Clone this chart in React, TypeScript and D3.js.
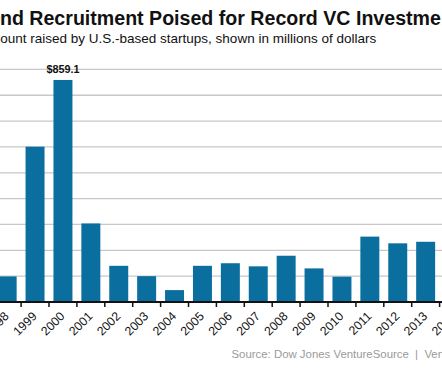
import React, { useRef, useEffect } from "react";
import * as d3 from "d3";

const years = [
  "1998", "1999", "2000", "2001", "2002", "2003", "2004", "2005", "2006",
  "2007", "2008", "2009", "2010", "2011", "2012", "2013", "2014",
];
const amounts = [
  99, 601, 859.1, 304, 140, 100, 46, 140, 150,
  138, 179, 130, 98, 253, 227, 233, 600,
];
const gridValues = [100, 200, 300, 400, 500, 600, 700, 800, 900];

const titleText = "Fund Recruitment Poised for Record VC Investment";
const subtitleText = "Amount raised by U.S.-based startups, shown in millions of dollars";
const sourceText = "Source: Dow Jones VentureSource  |  VentureWire";

const App = () => {
  const svgRef = useRef<SVGSVGElement>(null);

  useEffect(() => {
    const width = 442;
    const height = 369;
    const font = "'Liberation Sans', Arial, Helvetica, sans-serif";

    const svg = d3.select(svgRef.current);
    svg.selectAll("*").remove();
    svg
      .attr("width", width)
      .attr("height", height)
      .style("font-family", font)
      .style("background", "#fff");

    const step = 27.9;
    const x = d3
      .scaleBand()
      .domain(years)
      .range([-6.8, -6.8 + step * years.length])
      .paddingInner(0.32)
      .paddingOuter(0.16);

    const y = d3.scaleLinear().domain([0, 900]).range([302, 69.4]);

    // title + subtitle (left side is cropped in the original)
    svg
      .append("text")
      .attr("x", -24)
      .attr("y", 25)
      .attr("font-size", 19.6)
      .attr("font-weight", "bold")
      .attr("fill", "#111")
      .text(titleText);

    svg
      .append("text")
      .attr("x", -20)
      .attr("y", 43)
      .attr("font-size", 13.5)
      .attr("fill", "#111")
      .text(subtitleText);

    // gridlines
    svg
      .append("g")
      .selectAll("line")
      .data(gridValues)
      .join("line")
      .attr("x1", 0)
      .attr("x2", width)
      .attr("y1", (d) => y(d))
      .attr("y2", (d) => y(d))
      .attr("stroke", "#c8c8c8")
      .attr("stroke-width", 1.3);

    // bars
    svg
      .append("g")
      .selectAll("rect")
      .data(years)
      .join("rect")
      .attr("x", (d) => x(d)!)
      .attr("width", x.bandwidth())
      .attr("y", (d, i) => y(amounts[i]))
      .attr("height", (d, i) => y(0) - y(amounts[i]))
      .attr("fill", "#0a6e9e");

    // peak label
    const peak = d3.maxIndex(amounts.slice(0, 16));
    svg
      .append("text")
      .attr("x", x(years[peak])! + x.bandwidth() / 2)
      .attr("y", y(amounts[peak]) - 7)
      .attr("text-anchor", "middle")
      .attr("font-size", 10.8)
      .attr("font-weight", "bold")
      .attr("fill", "#111")
      .text(`$${amounts[peak].toFixed(1)}`);

    // baseline + ticks
    svg
      .append("line")
      .attr("x1", 0)
      .attr("x2", width)
      .attr("y1", y(0))
      .attr("y2", y(0))
      .attr("stroke", "#111")
      .attr("stroke-width", 2);

    svg
      .append("g")
      .selectAll("line")
      .data(years)
      .join("line")
      .attr("x1", (d) => x(d)! - (step - x.bandwidth()) / 2)
      .attr("x2", (d) => x(d)! - (step - x.bandwidth()) / 2)
      .attr("y1", y(0))
      .attr("y2", y(0) + 5)
      .attr("stroke", "#111")
      .attr("stroke-width", 1.5);

    // year labels
    svg
      .append("g")
      .selectAll("text")
      .data(years)
      .join("text")
      .attr(
        "transform",
        (d) => `translate(${x(d)! + x.bandwidth() / 2 + 2.5},317) rotate(-45)`
      )
      .attr("text-anchor", "end")
      .attr("font-size", 12.3)
      .attr("fill", "#111")
      .text((d) => d);

    // source
    svg
      .append("text")
      .attr("x", 231.5)
      .attr("y", 357.5)
      .attr("font-size", 11.4)
      .attr("fill", "#9a9a9a")
      .attr("xml:space", "preserve")
      .style("white-space", "pre")
      .text(sourceText);
  }, []);

  return (
    <svg
      ref={svgRef}
      style={{ position: "absolute", left: 0, top: 0, display: "block" }}
    ></svg>
  );
};

export default App;
